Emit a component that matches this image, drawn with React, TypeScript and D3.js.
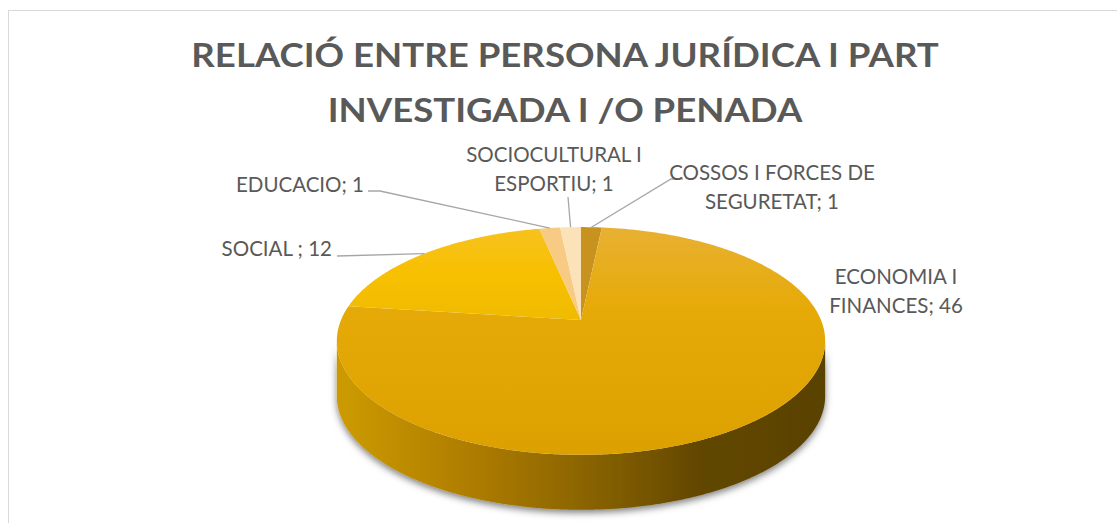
import React from 'react';
import * as d3 from 'd3';

// chart data
const categories = [
  'COSSOS I FORCES DE SEGURETAT',
  'ECONOMIA I FINANCES',
  'SOCIAL ',
  'EDUCACIO',
  'SOCIOCULTURAL I ESPORTIU',
];
const values = [1, 46, 12, 1, 1];
const titleLines = ['RELACIÓ ENTRE PERSONA JURÍDICA I PART', 'INVESTIGADA I /O PENADA'];

// label text split into lines, as shown in the chart
const labelLines = [
  ['COSSOS I FORCES DE', 'SEGURETAT; 1'],
  ['ECONOMIA I', 'FINANCES; 46'],
  ['SOCIAL ; 12'],
  ['EDUCACIO; 1'],
  ['SOCIOCULTURAL I', 'ESPORTIU; 1'],
];

const W = 1117;
const H = 523;

// pie geometry (perspective tilted disc)
const cx = 581;
const cy = 320;
const R = 240;
const RY = 110;
const K = 0.184; // perspective strength
const DEPTH = 55;

// label layout: anchor, text x, first baseline, leader line elbow
const labelLayout = [
  { x: 772, y: 180, anchor: 'middle', elbow: [683, 179], joint: [671, 179] },
  { x: 896, y: 284, anchor: 'middle', elbow: null, joint: null },
  { x: 332, y: 256, anchor: 'end', elbow: [337, 256], joint: null },
  { x: 364, y: 192, anchor: 'end', elbow: [368, 191], joint: [380, 191] },
  { x: 554, y: 162, anchor: 'middle', elbow: [568, 197], joint: null },
];

const topColors = ['#C8921E', 'url(#econTop)', 'url(#socialTop)', '#F8CB85', '#FCE2B8'];

function proj(theta: number, h = 0): [number, number] {
  const u = Math.sin(theta);
  const v = -Math.cos(theta);
  const f = 1 / (1 - K * v);
  return [cx + R * u * f, cy + RY * v * f + h * DEPTH];
}

function arcPoints(a0: number, a1: number, h = 0): [number, number][] {
  const n = Math.max(2, Math.ceil(Math.abs(a1 - a0) / 0.01));
  return d3.range(n + 1).map((i) => proj(a0 + ((a1 - a0) * i) / n, h));
}

export default function App() {
  const pie = d3
    .pie<number>()
    .sort(null)
    .value((d) => d);
  const arcs = pie(values);
  const line = d3.line<[number, number]>();

  // visible side: from right silhouette to left silhouette through the front
  const sA = Math.acos(-K);
  const sB = 2 * Math.PI - sA;

  const sides = arcs
    .map((a, i) => {
      const a0 = Math.max(a.startAngle, sA);
      const a1 = Math.min(a.endAngle, sB);
      if (a1 <= a0) return null;
      const top = arcPoints(a0, a1, 0);
      const bottom = arcPoints(a1, a0, 1);
      return { i, d: line([...top, ...bottom]) + 'Z' };
    })
    .filter(Boolean) as { i: number; d: string }[];

  const tops = arcs.map((a, i) => {
    const pts: [number, number][] = [[cx, cy], ...arcPoints(a.startAngle, a.endAngle, 0)];
    return { i, d: line(pts) + 'Z' };
  });

  const textColor = '#595959';
  const font = 'Lato, "Open Sans", sans-serif';

  return (
    <svg width={W} height={H} style={{ position: 'absolute', left: 0, top: 0 }}>
      <defs>
        <linearGradient id="sideGrad" gradientUnits="userSpaceOnUse" x1={cx - R} x2={cx + R} y1={0} y2={0}>
          <stop offset="0" stopColor="#CC9A06" />
          <stop offset="0.25" stopColor="#B17F00" />
          <stop offset="0.5" stopColor="#8C6500" />
          <stop offset="0.75" stopColor="#624700" />
          <stop offset="1" stopColor="#5A4200" />
        </linearGradient>
        <linearGradient id="econTop" gradientUnits="userSpaceOnUse" x1={0} x2={0} y1={cy - RY} y2={cy + RY * 1.2}>
          <stop offset="0" stopColor="#E8B23C" />
          <stop offset="0.4" stopColor="#E6AA08" />
          <stop offset="1" stopColor="#DCA000" />
        </linearGradient>
        <linearGradient id="socialTop" gradientUnits="userSpaceOnUse" x1={0} x2={0} y1={cy - RY} y2={cy + 20}>
          <stop offset="0" stopColor="#F8C22C" />
          <stop offset="0.5" stopColor="#F7C000" />
          <stop offset="1" stopColor="#EDB800" />
        </linearGradient>
        <filter id="shadow" x="-10%" y="-10%" width="120%" height="140%">
          <feDropShadow dx="0" dy="3" stdDeviation="3.5" floodColor="#000" floodOpacity="0.5" />
        </filter>
      </defs>
      <rect x={8.5} y={10.5} width={W} height={H} fill="#fff" stroke="#D9D9D9" strokeWidth={1} />

      {titleLines.map((t, i) => (
        <text
          key={t}
          transform={`translate(565,${67 + i * 55}) scale(1,0.86)`}
          textAnchor="middle"
          fill={textColor}
          fontFamily={font}
          fontWeight={700}
          fontSize={36.6}
        >
          {t}
        </text>
      ))}

      <g filter="url(#shadow)">
        {sides.map((s) => (
          <path key={'side' + s.i} d={s.d} fill="url(#sideGrad)" />
        ))}
      </g>
      <g>
        {tops.map((t) => (
          <path key={'top' + t.i} d={t.d} fill={topColors[t.i]} />
        ))}
      </g>

      {arcs.map((a, i) => {
        const lay = labelLayout[i];
        const mid = (a.startAngle + a.endAngle) / 2;
        const p = proj(mid, 0);
        let leader: string | null = null;
        if (lay.elbow) {
          const pts: [number, number][] = lay.joint
            ? [lay.elbow as [number, number], lay.joint as [number, number], p]
            : [lay.elbow as [number, number], p];
          leader = line(pts);
        }
        return (
          <g key={categories[i]}>
            {leader && <path d={leader} fill="none" stroke="#A6A6A6" strokeWidth={1.3} />}
            {labelLines[i].map((l, j) => (
              <text
                key={l}
                x={lay.x}
                y={lay.y + j * 29}
                textAnchor={lay.anchor as any}
                fill={textColor}
                fontFamily={font}
                fontSize={20.5}
              >
                {l}
              </text>
            ))}
          </g>
        );
      })}
    </svg>
  );
}
